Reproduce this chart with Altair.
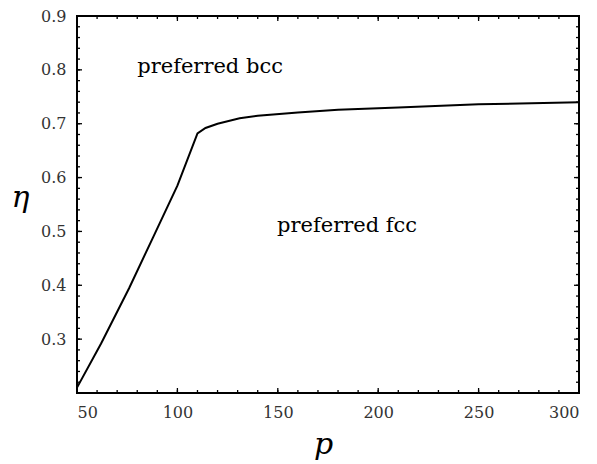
import altair as alt
import pandas as pd

# curve data
p_vals = [50, 62, 76, 88, 100, 110, 114, 120, 131, 140, 160, 180, 210, 250, 300]
eta_vals = [0.210, 0.292, 0.395, 0.490, 0.585, 0.682, 0.692, 0.700, 0.710, 0.715, 0.721, 0.726, 0.730, 0.736, 0.740]

# region labels
label_text = ["preferred bcc", "preferred fcc"]
label_p = [80, 184.5]
label_eta = [0.805, 0.511]

# tick values
x_major = [50, 100, 150, 200, 250, 300]
x_minor = list(range(50, 301, 10))
y_major = [0.3, 0.4, 0.5, 0.6, 0.7, 0.8, 0.9]
y_minor = [round(0.2 + 0.02 * i, 2) for i in range(36)]

W, H = 502, 377
FONT = "DejaVu Serif"

df = pd.DataFrame({"p": p_vals, "eta": eta_vals})
xs = alt.Scale(domain=[50, 300], nice=False, zero=False)
ys = alt.Scale(domain=[0.2, 0.9], nice=False, zero=False)

ax_x = alt.Axis(
    values=x_major, ticks=False, tickSize=0, domain=False, grid=False,
    labelPadding=11, labelFont=FONT, labelFontSize=16, labelColor="#333",
    title="p", titleFont=FONT, titleFontStyle="italic", titleFontWeight="normal",
    titleFontSize=30, titleColor="black", titleBaseline="alphabetic",
    titleY=60, titleX=246, titleAlign="center")
ax_y = alt.Axis(
    values=y_major, ticks=False, tickSize=0, domain=False, grid=False,
    labelPadding=11, format=".1f", labelFont=FONT, labelFontSize=16, labelColor="#333",
    title="η", titleFont=FONT, titleFontStyle="italic", titleFontWeight="normal",
    titleFontSize=30, titleColor="black", titleAngle=0, titleAlign="center",
    titleBaseline="alphabetic", titleX=-57, titleY=190)

line = alt.Chart(df).mark_line(color="black", strokeWidth=2).encode(
    x=alt.X("p:Q", scale=xs, axis=ax_x),
    y=alt.Y("eta:Q", scale=ys, axis=ax_y),
)

tdf = pd.DataFrame({"p": label_p, "eta": label_eta, "t": label_text})
text_l = alt.Chart(tdf.iloc[[0]]).mark_text(font=FONT, fontSize=21, align="left", baseline="middle", color="black").encode(
    x=alt.X("p:Q", scale=xs, axis=ax_x), y=alt.Y("eta:Q", scale=ys, axis=ax_y), text="t:N")
text_c = alt.Chart(tdf.iloc[[1]]).mark_text(font=FONT, fontSize=21, align="center", baseline="middle", color="black").encode(
    x=alt.X("p:Q", scale=xs, axis=ax_x), y=alt.Y("eta:Q", scale=ys, axis=ax_y), text="t:N")

def xticks(vals, length):
    d = pd.DataFrame({"p": vals})
    bot = alt.Chart(d).mark_rule(color="black", strokeWidth=1.3).encode(
        x=alt.X("p:Q", scale=xs, axis=ax_x), y=alt.value(H), y2=alt.value(H - length))
    top = alt.Chart(d).mark_rule(color="black", strokeWidth=1.3).encode(
        x=alt.X("p:Q", scale=xs, axis=ax_x), y=alt.value(0), y2=alt.value(length))
    return [bot, top]

def yticks(vals, length):
    d = pd.DataFrame({"eta": vals})
    left = alt.Chart(d).mark_rule(color="black", strokeWidth=1.3).encode(
        y=alt.Y("eta:Q", scale=ys, axis=ax_y), x=alt.value(0), x2=alt.value(length))
    right = alt.Chart(d).mark_rule(color="black", strokeWidth=1.3).encode(
        y=alt.Y("eta:Q", scale=ys, axis=ax_y), x=alt.value(W), x2=alt.value(W - length))
    return [left, right]

layers = [line, text_l, text_c] + xticks(x_minor, 3) + xticks(x_major, 5) + yticks(y_minor, 3) + yticks(y_major, 5)

chart = alt.layer(*layers).properties(
    width=W, height=H,
    autosize=alt.AutoSizeParams(type="none"),
    padding={"left": 77, "top": 16, "right": 18, "bottom": 71},
    background="white",
).configure(
    font=FONT
).configure_view(
    stroke="black", strokeWidth=2
)

chart.save("out.html", embed_options={"renderer": "svg", "actions": False})
